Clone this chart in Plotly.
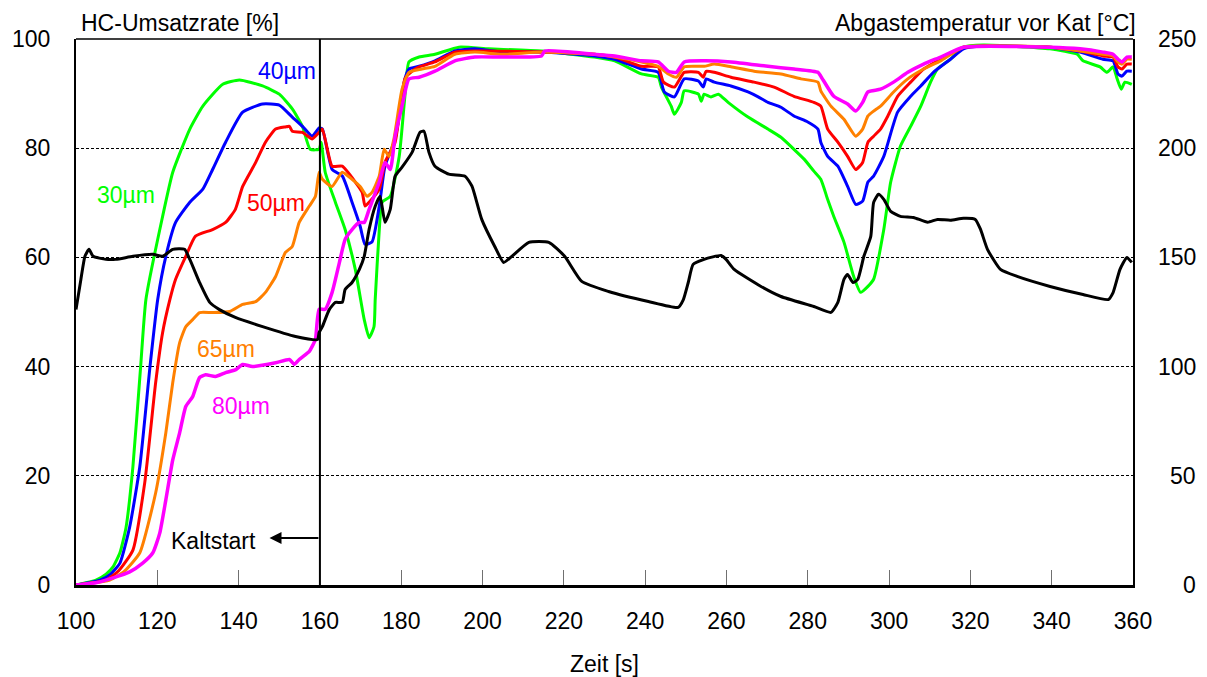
import plotly.graph_objects as go

# ---------------- data ----------------
t_30 = [100, 104.9, 107.4, 109.1, 110.8, 112.3, 114.0, 115.9, 117.2, 121.3, 123.8, 128.0, 131.2, 136.1, 140.2, 145.9, 150.0, 153.2, 155.7, 157.6, 159.8, 160.3,
        161.3, 163.8, 166.2, 168.7, 170.9, 172.1, 173.3, 173.6, 174.6, 175.3, 177.3, 179.5, 180.9, 181.9, 184.4, 188.3, 194.2, 201.5, 214.5,
        227.5, 232.5, 239.1, 243.2, 244.0, 246.4, 247.2, 248.9, 249.6, 253.1, 253.8, 254.5, 256.2, 258.0, 260.4, 265.3, 270.2, 273.4, 276.6,
        279.1, 281.5, 283.2, 284.9, 286.4, 288.9, 291.3, 293.0, 294.8, 296.2, 298.7, 300.4, 302.8, 305.3, 307.8, 310.2, 311.9, 315.1, 318.3,
        323.2, 339.6, 346.3, 347.7, 351.9, 353.6, 355.1, 356.1, 357.1, 358.0, 359.7]
hc_30 = [0, 0.9, 2.0, 3.3, 5.9, 10.5, 21.7, 40.0, 52.3, 67.5, 75.6, 83.5, 87.7, 91.7, 92.5, 91.4, 89.9, 87.2, 84.0, 79.8, 79.8, 81.1,
         75.6, 70.1, 65.1, 57.8, 48.6, 45.3, 47.3, 52.3, 65.1, 70.1, 71.2, 78.5, 89.5, 95.8, 96.7, 97.2, 98.5, 98.2, 97.8,
         96.7, 96.0, 93.6, 93.0, 91.2, 87.7, 86.2, 88.4, 90.5, 89.9, 88.6, 89.9, 89.4, 89.9, 88.4, 85.7, 83.5, 82.0, 79.8,
         78.0, 75.8, 74.3, 70.6, 67.5, 62.8, 56.5, 53.6, 54.7, 56.0, 65.1, 73.8, 80.4, 84.0, 87.7, 92.1, 94.5, 96.3, 98.5,
         98.9, 98.2, 97.2, 96.0, 94.9, 93.9, 94.9, 92.7, 90.8, 92.1, 91.7]

t_40 = [100, 105.9, 108.5, 110.8, 113.2, 115.7, 118.2, 120.1, 122.1, 124.5, 128.0, 131.2, 133.6, 136.8, 141.0, 145.9, 150.0, 153.2, 155.7, 158.1, 159.8,
        160.6, 163.0, 165.5, 167.9, 169.9, 171.1, 172.8, 174.6, 176.0, 178.5, 180.9, 181.9, 184.4, 188.3, 193.2, 198.1, 204.7, 214.5, 227.5,
        232.5, 239.1, 243.2, 244.7, 247.2, 249.6, 253.1, 254.3, 255.0, 257.0, 261.1, 265.3, 267.8, 270.2, 273.4, 276.6, 280.0, 282.5, 283.2,
        284.9, 287.4, 289.8, 291.8, 293.5, 294.8, 296.2, 298.7, 302.1, 305.3, 307.8, 310.9, 315.1, 318.3, 323.2, 339.6, 347.0, 352.6, 355.1,
        356.3, 357.3, 358.5, 359.7]
hc_40 = [0, 0.9, 2.0, 4.0, 10.6, 21.7, 40.0, 52.3, 60.2, 66.4, 70.1, 72.5, 76.1, 81.1, 86.6, 88.1, 87.9, 85.7, 84.0, 82.2, 83.7,
         83.5, 76.1, 74.9, 70.1, 65.7, 62.4, 62.8, 69.4, 76.7, 81.7, 92.7, 94.5, 95.0, 96.0, 97.8, 98.2, 97.6, 97.6, 96.9,
         96.3, 94.5, 93.9, 90.3, 89.4, 92.7, 92.3, 91.2, 92.7, 92.1, 91.4, 90.3, 89.4, 88.4, 87.5, 85.9, 84.8, 83.5, 81.1,
         78.5, 76.7, 73.0, 69.7, 70.3, 73.8, 74.9, 78.5, 86.6, 89.5, 91.4, 93.9, 96.3, 98.2, 98.7, 98.5, 97.6, 96.3, 96.0,
         93.6, 93.2, 94.1, 94.1]

t_50 = [100, 107.4, 110.5, 114.0, 116.9, 119.6, 121.3, 123.1, 124.5, 127.0, 129.4, 133.6, 136.8, 139.2, 141.0, 144.2, 146.6, 149.1, 151.5, 152.5,
        153.2, 155.7, 158.1, 159.8, 160.6, 163.0, 165.5, 168.7, 170.4, 171.1, 172.1, 174.6, 176.0, 178.5, 180.9, 182.7, 184.4, 188.3, 193.2,
        198.1, 214.5, 227.5, 232.5, 239.1, 243.2, 244.5, 247.2, 249.6, 253.1, 254.3, 255.0, 257.0, 261.1, 266.8, 271.7, 276.6, 281.5, 283.2,
        284.9, 287.4, 289.8, 291.8, 293.5, 294.8, 296.2, 297.9, 299.7, 302.1, 305.3, 308.5, 312.7, 318.3, 323.2, 339.6, 347.0, 352.6, 355.1,
        356.3, 357.3, 358.5, 359.7]
hc_50 = [0, 0.9, 2.6, 6.4, 18.7, 37.1, 46.2, 52.3, 56.0, 60.2, 63.9, 65.1, 66.4, 68.8, 73.0, 77.4, 81.1, 83.5, 83.9, 84.0,
         83.1, 82.9, 81.7, 82.9, 83.5, 76.7, 76.7, 73.8, 71.9, 69.4, 70.1, 72.5, 77.4, 81.1, 92.7, 94.1, 94.9, 95.8, 97.6,
         97.8, 97.6, 97.2, 96.7, 95.0, 94.9, 92.1, 91.2, 93.9, 93.9, 93.0, 94.1, 93.9, 93.0, 92.1, 91.2, 89.5, 88.4, 87.7,
         83.5, 81.1, 78.5, 76.1, 77.4, 81.1, 82.2, 83.5, 85.9, 89.5, 92.1, 94.5, 96.3, 98.5, 98.7, 98.5, 97.8, 96.9, 96.7,
         94.9, 94.5, 95.4, 95.4]

t_65 = [100, 108.3, 112.0, 115.7, 119.6, 122.1, 123.8, 125.5, 127.0, 128.7, 130.4, 133.6, 137.8, 141.0, 144.2, 146.6, 149.1, 151.5, 153.2, 154.9,
        157.4, 158.9, 159.8, 160.6, 163.0, 165.5, 167.9, 169.9, 171.6, 172.8, 174.6, 175.8, 177.0, 178.2, 180.2, 181.9, 185.1, 188.3, 193.2,
        198.1, 204.7, 214.5, 227.5, 232.5, 239.1, 243.2, 245.7, 247.7, 249.6, 254.5, 257.0, 261.1, 266.8, 273.4, 278.3, 282.5, 283.2, 285.7,
        288.9, 291.8, 293.5, 294.8, 296.2, 297.9, 301.1, 304.6, 308.5, 312.7, 318.3, 339.6, 347.0, 352.6, 355.1, 356.3, 357.3, 358.5, 359.7]
hc_65 = [0, 0.9, 2.6, 5.9, 16.9, 27.9, 37.1, 44.4, 47.3, 48.6, 49.9, 49.9, 50.1, 51.4, 51.9, 53.6, 56.5, 60.9, 62.0, 66.4,
         69.4, 71.2, 75.6, 74.3, 73.0, 75.6, 74.3, 73.0, 71.2, 71.9, 74.9, 79.8, 78.5, 81.7, 90.8, 93.9, 94.5, 95.0, 97.2,
         97.6, 97.2, 97.6, 97.2, 96.7, 95.8, 95.0, 93.6, 93.0, 94.9, 95.0, 95.4, 94.9, 94.1, 93.6, 92.7, 92.1, 90.5, 87.7,
         85.3, 82.2, 83.5, 85.9, 86.8, 87.7, 90.3, 92.7, 94.5, 96.0, 98.5, 98.5, 97.8, 97.2, 96.9, 95.8, 95.4, 96.3, 96.3]

t_80 = [100, 104.9, 109.1, 113.2, 116.4, 118.9, 120.6, 122.1, 123.8, 125.5, 127.0, 128.7, 130.4, 131.9, 134.3, 136.8, 139.2, 141.0, 143.4,
        149.1, 152.5, 153.7, 154.9, 157.4, 158.1, 158.9, 159.8, 161.3, 163.0, 164.8, 166.2, 167.9, 169.7, 170.9, 172.1, 174.6, 176.0, 177.3,
        178.5, 180.2, 181.9, 184.4, 188.3, 193.2, 198.1, 204.7, 214.5, 215.3, 227.5, 232.5, 239.1, 243.2, 245.7, 247.7, 249.6, 254.5, 261.1,
        270.2, 276.6, 282.5, 283.2, 286.4, 289.8, 291.8, 293.5, 294.8, 297.9, 301.1, 304.6, 308.5, 312.7, 318.3, 339.6, 347.0, 352.6, 355.1,
        356.3, 357.3, 358.5, 359.7]
hc_80 = [0, 0.4, 1.3, 2.4, 4.0, 5.9, 9.5, 15.6, 22.9, 27.9, 32.7, 34.5, 38.0, 38.5, 38.2, 38.9, 39.4, 40.4, 40.0,
         40.7, 41.3, 40.4, 41.3, 42.8, 43.7, 45.0, 50.5, 50.5, 53.6, 59.1, 63.3, 65.1, 66.4, 66.4, 68.8, 73.8, 77.4, 76.1,
         82.2, 87.7, 92.7, 93.0, 94.1, 96.0, 96.7, 96.7, 96.9, 97.8, 97.2, 96.9, 96.0, 95.8, 94.1, 93.9, 95.8, 96.0, 95.8,
         95.0, 94.5, 93.9, 93.2, 89.5, 88.1, 86.8, 88.4, 90.3, 90.8, 92.1, 93.9, 95.4, 96.7, 98.5, 98.5, 98.2, 97.6, 97.2,
         96.3, 95.8, 96.7, 96.7]

t_temp = [100, 101.2, 102.2, 103.2, 104.2, 107.4, 109.8, 114.0, 118.9, 121.3, 123.8, 126.7, 128.0, 130.4, 132.9, 135.3, 139.2, 145.9, 154.0,
          159.4, 159.8, 160.6, 162.3, 163.8, 165.5, 166.2, 167.9, 169.7, 170.9, 172.1, 173.6, 174.8, 176.0, 177.3, 178.5, 180.2, 182.7, 184.6,
          185.6, 186.8, 188.3, 191.7, 195.7, 197.4, 199.8, 203.0, 205.2, 207.2, 211.4, 216.3, 220.2, 224.4, 231.0, 240.8, 248.1, 249.4, 250.6,
          251.8, 254.5, 258.7, 259.9, 261.9, 268.5, 273.4, 281.5, 285.7, 287.4, 288.9, 289.8, 291.1, 292.3, 293.8, 295.5, 296.2, 297.4, 298.7,
          300.4, 302.8, 306.0, 309.5, 311.9, 315.1, 318.3, 321.2, 322.5, 324.2, 327.4, 331.5, 339.6, 347.7, 353.9, 355.1, 356.8, 358.5, 359.7]
temp = [126.1, 139.9, 150.5, 153.7, 150.5, 149.1, 149.1, 150.5, 151.4, 150.5, 153.7, 153.7, 149.1, 138.5, 129.4, 126.1, 122.5, 118.3, 113.8,
        112.4, 115.6, 118.3, 126.1, 129.4, 129.4, 135.3, 138.5, 144.5, 150.5, 162.8, 173.4, 178.0, 166.1, 172.0, 187.2, 191.3, 198.2, 207.3,
        207.8, 198.2, 191.7, 188.1, 187.2, 182.6, 167.4, 155.0, 147.7, 150.5, 156.9, 156.9, 150.5, 139.0, 134.4, 129.8, 127.1, 130.7, 138.5,
        146.8, 149.1, 150.9, 149.1, 144.5, 136.7, 132.1, 127.5, 124.8, 129.4, 139.9, 142.2, 138.5, 139.9, 150.5, 159.6, 175.2, 178.9, 176.6,
        171.1, 168.8, 168.3, 166.1, 167.4, 167.0, 167.9, 167.4, 162.8, 153.7, 144.5, 141.3, 136.7, 133.0, 130.7, 133.9, 144.5, 150.0, 147.7]

x_ticks = [100, 120, 140, 160, 180, 200, 220, 240, 260, 280, 300, 320, 340, 360]
y_ticks = [0, 20, 40, 60, 80, 100]
y2_ticks = [0, 50, 100, 150, 200, 250]

series = [
    ("30µm", t_30, hc_30, "#00FF00", 112.3, 71.4),
    ("40µm", t_40, hc_40, "#0000FF", 152.0, 94.1),
    ("50µm", t_50, hc_50, "#FF0000", 149.1, 69.9),
    ("65µm", t_65, hc_65, "#FF8000", 136.8, 43.3),
    ("80µm", t_80, hc_80, "#FF00FF", 140.7, 32.8),
]

FONT = "Liberation Sans, Arial, sans-serif"
FS = 23

fig = go.Figure()

fig.add_trace(go.Scatter(x=t_temp, y=temp, yaxis="y2", mode="lines",
                         line=dict(color="black", width=3, shape="spline", smoothing=0.5),
                         showlegend=False, hoverinfo="skip"))

for name, tx, ty, col, lx, ly in series:
    fig.add_trace(go.Scatter(x=tx, y=ty, mode="lines", name=name,
                             line=dict(color=col, width=3.5 if name == "80µm" else 3, shape="spline", smoothing=0.5),
                             showlegend=False, hoverinfo="skip"))

annotations = []
for name, tx, ty, col, lx, ly in series:
    annotations.append(dict(x=lx, y=ly, xref="x", yref="y", text=name, showarrow=False,
                            font=dict(family=FONT, size=FS, color=col)))

# Kaltstart arrow and text
annotations.append(dict(x=147.6, y=8.6, xref="x", yref="y", ax=160, ay=8.6, axref="x", ayref="y",
                        text="", showarrow=True, arrowhead=2, arrowsize=1.2, arrowwidth=2, arrowcolor="black"))
annotations.append(dict(x=133.8, y=8.1, xref="x", yref="y", text="Kaltstart", showarrow=False,
                        font=dict(family=FONT, size=FS, color="black")))

# Axis titles
annotations.append(dict(x=0.003, y=1.029, xref="paper", yref="paper", xanchor="left", yanchor="middle",
                        text="HC-Umsatzrate [%]", showarrow=False, font=dict(family=FONT, size=FS, color="black")))
annotations.append(dict(x=1.0047, y=1.029, xref="paper", yref="paper", xanchor="right", yanchor="middle",
                        text="Abgastemperatur vor Kat [°C]", showarrow=False, font=dict(family=FONT, size=FS, color="black")))
annotations.append(dict(x=0.5, y=-0.1447, xref="paper", yref="paper", xanchor="center", yanchor="middle",
                        text="Zeit [s]", showarrow=False, font=dict(family=FONT, size=FS, color="black")))

# Right axis tick labels (right-aligned)
for v in y2_ticks:
    annotations.append(dict(x=1.0613, y=v, xref="paper", yref="y2", xanchor="right", yanchor="middle",
                            text=str(v), showarrow=False, font=dict(family=FONT, size=FS, color="black")))

fig.update_layout(
    width=1207, height=677,
    margin=dict(l=73, r=74, t=39, b=92),
    paper_bgcolor="white", plot_bgcolor="white",
    font=dict(family=FONT, size=FS, color="black"),
    xaxis=dict(range=[100, 360], tickvals=x_ticks, ticks="inside", ticklen=15, tickwidth=1, tickcolor="#707070",
               showline=True, linecolor="black", linewidth=2.5, showgrid=False, zeroline=False,
               tickfont=dict(family=FONT, size=FS), ticklabelstandoff=14),
    yaxis=dict(range=[0, 100], tickvals=y_ticks, ticks="", showline=True, linecolor="black", linewidth=2,
               showgrid=True, gridcolor="black", gridwidth=1, griddash="3px,2px", zeroline=False,
               tickfont=dict(family=FONT, size=FS), ticklabelstandoff=19),
    yaxis2=dict(range=[0, 250], tickvals=y2_ticks, overlaying="y", side="right", showticklabels=False, ticks="",
                showline=True, linecolor="black", linewidth=2, showgrid=False, zeroline=False),
    shapes=[
        dict(type="line", xref="x", yref="paper", x0=160, x1=160, y0=0, y1=1, line=dict(color="black", width=2)),
        dict(type="line", xref="paper", yref="paper", x0=0, x1=1, y0=1, y1=1, line=dict(color="black", width=1.5)),
    ],
    annotations=annotations,
)

fig.write_html("out.html")
